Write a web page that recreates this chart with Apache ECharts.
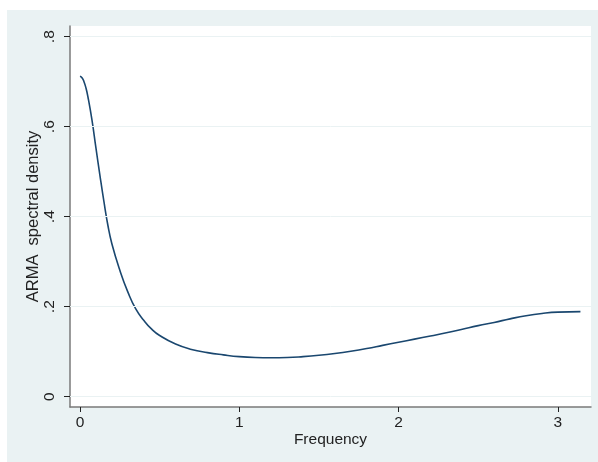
<!DOCTYPE html>
<html>
<head>
<meta charset="utf-8">
<script src="https://cdn.jsdelivr.net/npm/echarts@6/dist/echarts.min.js"></script>
<style>
html,body{margin:0;padding:0;background:#fff;}
#chart{width:598px;height:462px;}
</style>
</head>
<body>
<div id="chart"></div>
<script>
// Data
var frequency = [0, 0.0125, 0.025, 0.0375, 0.05, 0.075, 0.1, 0.125, 0.15, 0.175, 0.2, 0.25, 0.3, 0.35, 0.4, 0.45, 0.5, 0.6, 0.7, 0.8, 0.9, 1.0, 1.1, 1.2, 1.3, 1.4, 1.5, 1.6, 1.7, 1.8, 1.9, 2.0, 2.1, 2.2, 2.3, 2.4, 2.5, 2.6, 2.7, 2.8, 2.9, 3.0, 3.1416];
var density   = [0.712, 0.709, 0.700, 0.686, 0.666, 0.615, 0.553, 0.492, 0.434, 0.381, 0.340, 0.281, 0.233, 0.195, 0.170, 0.150, 0.136, 0.117, 0.105, 0.098, 0.093, 0.089, 0.087, 0.0865, 0.087, 0.089, 0.092, 0.096, 0.101, 0.107, 0.114, 0.121, 0.128, 0.135, 0.142, 0.150, 0.158, 0.165, 0.173, 0.180, 0.185, 0.188, 0.189];
var xTicks = [0, 1, 2, 3];
var yTicks = [0, 0.2, 0.4, 0.6, 0.8];
var xRange = [-0.0628, 3.208];
var yRange = [-0.0229, 0.8238];

var points = frequency.map(function (f, i) { return [f, density[i]]; });
var FONT = 'Liberation Sans, Arial, sans-serif';

var chart = echarts.init(document.getElementById('chart'), null, {renderer: 'canvas'});
chart.setOption({
  backgroundColor: '#ffffff',
  animation: false,
  graphic: [{
    type: 'rect', z: -10, silent: true,
    shape: {x: 7, y: 10, width: 591, height: 452},
    style: {fill: '#EAF2F3'}
  }],
  grid: {
    left: 70, right: 7, top: 26, bottom: 55,
    show: true, backgroundColor: '#ffffff', borderWidth: 0
  },
  xAxis: {
    type: 'value', min: xRange[0], max: xRange[1],
    name: 'Frequency', nameLocation: 'middle', nameGap: 25, nameMoveOverlap: false,
    nameTextStyle: {color: '#222', fontSize: 15.5, fontFamily: FONT},
    axisLine: {show: true, onZero: false, lineStyle: {color: '#7a7a7a', width: 1.5}},
    axisTick: {show: true, customValues: xTicks, length: 5, lineStyle: {color: '#222', width: 1}},
    axisLabel: {show: true, customValues: xTicks, margin: 8, color: '#222', fontSize: 15.5, fontFamily: FONT,
      formatter: function (v) { return String(v); }},
    splitLine: {show: false}
  },
  yAxis: {
    type: 'value', min: yRange[0], max: yRange[1],
    name: 'ARMA  spectral density', nameLocation: 'middle', nameGap: 28, nameMoveOverlap: false,
    nameTextStyle: {color: '#222', fontSize: 16.5, fontFamily: FONT},
    axisLine: {show: true, onZero: false, lineStyle: {color: '#7a7a7a', width: 1.5}},
    axisTick: {show: true, customValues: yTicks, length: 6, lineStyle: {color: '#222', width: 1}},
    axisLabel: {show: true, customValues: yTicks, rotate: 90, margin: 12, color: '#222', fontSize: 15.5, fontFamily: FONT,
      formatter: function (v) { return v === 0 ? '0' : String(+v.toFixed(1)).replace(/^0\./, '.'); }},
    splitLine: {show: false}
  },
  series: [{
    type: 'line',
    data: points,
    showSymbol: false,
    smooth: 0.5,
    lineStyle: {color: '#1A476F', width: 1.6},
    markLine: {
      silent: true, symbol: 'none', animation: false,
      label: {show: false},
      lineStyle: {color: '#EAF2F3', width: 1, type: 'solid'},
      data: yTicks.map(function (v) { return {yAxis: v}; })
    }
  }]
});
</script>
</body>
</html>
